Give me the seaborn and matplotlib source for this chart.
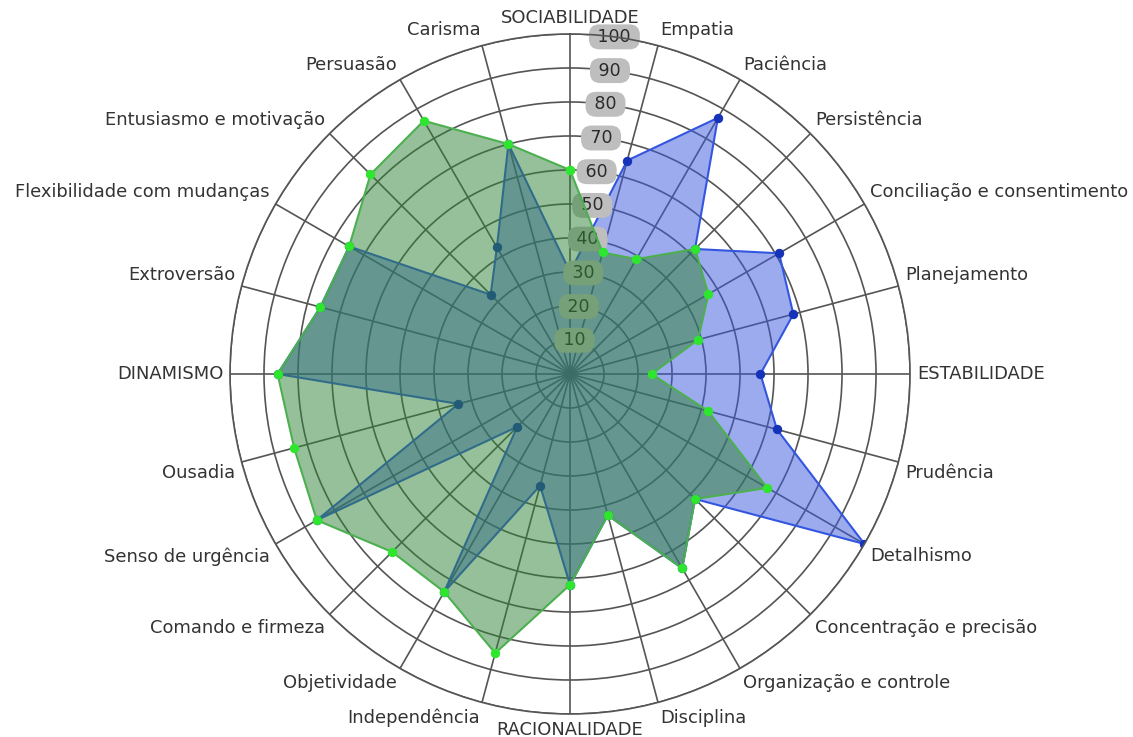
import numpy as np
import pandas as pd
import matplotlib
matplotlib.use("Agg")
import matplotlib.pyplot as plt
import seaborn as sns

categories = ["SOCIABILIDADE", "Empatia", "Paciência", "Persistência",
              "Conciliação e consentimento", "Planejamento", "ESTABILIDADE",
              "Prudência", "Detalhismo", "Concentração e precisão",
              "Organização e controle", "Disciplina", "RACIONALIDADE",
              "Independência", "Objetividade", "Comando e firmeza",
              "Senso de urgência", "Ousadia", "DINAMISMO", "Extroversão",
              "Flexibilidade com mudanças", "Entusiasmo e motivação",
              "Persuasão", "Carisma"]

blue_values = [30, 65, 87, 52, 71, 68, 56, 63, 100, 52, 66, 43, 62, 34,
               74, 22, 86, 34, 86, 76, 75, 33, 43, 70]
green_values = [60, 37, 39, 52, 47, 39, 24, 42, 67, 52, 66, 43, 62, 85,
                74, 74, 86, 84, 86, 76, 75, 83, 86, 70]
radial_ticks = [10, 20, 30, 40, 50, 60, 70, 80, 90, 100]

sns.set_theme(style="white")
plt.rcParams["font.family"] = ["DejaVu Sans"]

fig = plt.figure(figsize=(11.33, 7.37), dpi=100)
ax = fig.add_axes([0.2030, 0.0312, 0.6002, 0.9227], projection="polar")
ax.set_theta_zero_location("N")
ax.set_theta_direction(-1)

n = len(categories)
theta = np.arange(n) * 2 * np.pi / n
ax.set_ylim(0, 100)
ax.set_xticks(theta)
ax.set_xticklabels([])
ax.set_yticks(radial_ticks)
ax.set_yticklabels([])
ax.set_axisbelow(True)
ax.grid(True, color="#555555", linewidth=1.2)
ax.spines["polar"].set_color("#555555")
ax.spines["polar"].set_linewidth(1.2)

# radial tick labels (above the blue fill, beneath the green fill)
for v in radial_ticks:
    ax.text(np.deg2rad(7.5), v, f" {v} ", ha="center", va="center",
            fontsize=12.5, color="#2a2a2a", zorder=2.5,
            bbox=dict(boxstyle="round,pad=0.2,rounding_size=0.6",
                      fc="#bebebe", ec="none"))

def draw(values, fill_c, line_c, marker_c, z):
    th = np.append(theta, 2 * np.pi)
    vals = list(values) + [values[0]]
    df = pd.DataFrame({"theta": th, "value": vals})
    ax.fill(df["theta"], df["value"], color=fill_c, alpha=0.5, lw=0, zorder=z)
    sns.lineplot(data=df, x="theta", y="value", sort=False, ax=ax,
                 color=line_c, linewidth=1.5, marker="o", markersize=6,
                 markerfacecolor=marker_c, markeredgecolor=marker_c,
                 zorder=z + 0.1)

draw(blue_values, "#3b59dd", "#3356e0", "#1533b8", 2)
draw(green_values, "#2f8334", "#4cb050", "#2ee62e", 3)
ax.set_xlabel("")
ax.set_ylabel("")

for ang, cat in zip(theta, categories):
    s, c = np.sin(ang), np.cos(ang)
    ha = "center" if abs(s) < 1e-6 else ("left" if s > 0 else "right")
    va = "center" if abs(c) < 1e-6 else ("bottom" if c > 0 else "top")
    ax.text(ang, 102, cat, ha=ha, va=va, fontsize=12.9, color="#333333",
            clip_on=False)

fig.savefig("out.png", dpi=100)
